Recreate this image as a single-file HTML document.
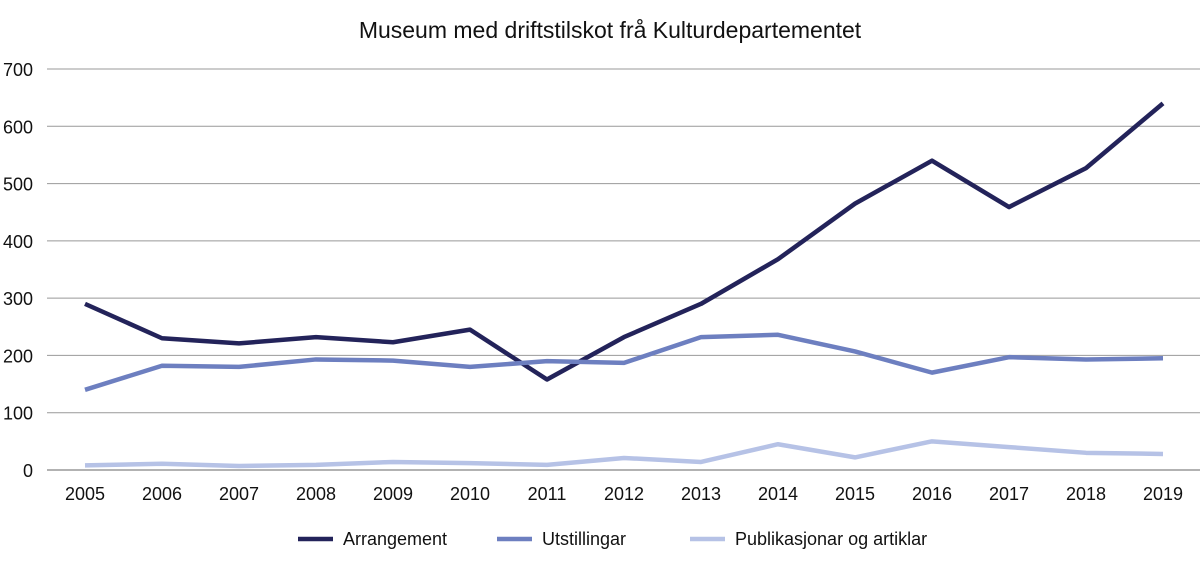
<!DOCTYPE html>
<html><head><meta charset="utf-8"><style>
html,body{margin:0;padding:0;background:#fff;}
svg{display:block;font-family:"Liberation Sans",sans-serif;}
</style></head><body>
<svg id="chart" width="1200" height="565" viewBox="0 0 1200 565">
<text x="610" y="38" text-anchor="middle" font-size="23" fill="#111">Museum med driftstilskot frå Kulturdepartementet</text>
<g id="grid"></g>
<g id="yticks"></g>
<g id="xticks"></g>
<g id="series"></g>
<g id="legend"></g>
</svg>
<script>
const years = [2005,2006,2007,2008,2009,2010,2011,2012,2013,2014,2015,2016,2017,2018,2019];
const arrangement = [290,230,221,232,223,245,158,232,290,368,465,540,459,527,640];
const utstillingar = [140,182,180,193,191,180,190,187,232,236,207,170,197,193,195];
const publikasjonar = [8,11,7,9,14,12,9,21,14,45,22,50,40,30,28];
const yTicks = [0,100,200,300,400,500,600,700];
const seriesNames = ["Arrangement","Utstillingar","Publikasjonar og artiklar"];

const NS="http://www.w3.org/2000/svg";
const x0=85,x1=1163,yBase=470,yTop=69;
const xScale=i=>x0+(x1-x0)*i/(years.length-1);
const yScale=v=>yBase-(yBase-yTop)*v/700;
function mk(tag,attrs,parent){const e=document.createElementNS(NS,tag);for(const k in attrs)e.setAttribute(k,attrs[k]);parent.appendChild(e);return e;}
const grid=document.getElementById('grid'),yt=document.getElementById('yticks'),xt=document.getElementById('xticks'),sg=document.getElementById('series'),lg=document.getElementById('legend');
yTicks.forEach(v=>{
  const l=mk('line',{x1:47,x2:1200,y1:yScale(v),y2:yScale(v),stroke:v===0?'#666':'#999','stroke-width':1},grid);
  
  
  const t=mk('text',{x:33,y:yScale(v)+7,'text-anchor':'end','font-size':18,fill:'#111'},yt);
  t.textContent=v;
  
  
});
years.forEach((y,i)=>{
  const t=mk('text',{x:xScale(i),y:500,'text-anchor':'middle','font-size':18,fill:'#111'},xt);
  t.textContent=y;
  
  
});
const colors=['#23235a','#6d7fc0','#b6c2e6'];
[arrangement,utstillingar,publikasjonar].forEach((d,s)=>{
  const p=mk('polyline',{points:d.map((v,i)=>xScale(i)+','+yScale(v)).join(' '),fill:'none',stroke:colors[s],'stroke-width':4.5,'stroke-linejoin':'round'},sg);
  
  
});
const lx=[298,497,690];
seriesNames.forEach((n,s)=>{
  const l=mk('line',{x1:lx[s],x2:lx[s]+35,y1:539,y2:539,stroke:colors[s],'stroke-width':4.5},lg);
  
  
  const t=mk('text',{x:lx[s]+45,y:545,'font-size':18,fill:'#111'},lg);
  t.textContent=n;
  
  
});
</script>
</body></html>
